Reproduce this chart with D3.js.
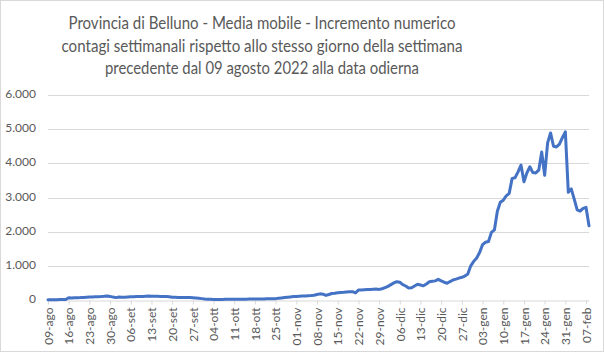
<!DOCTYPE html>
<html>
<head>
<meta charset="utf-8">
<script src="https://cdn.jsdelivr.net/npm/d3@7"></script>
<style>
  body { margin: 0; background: #fff; }
  text { font-family: Lato, "Liberation Sans", sans-serif; }
</style>
</head>
<body>
<svg id="chart" width="604" height="352"></svg>
<script>
// titolo del grafico
var titleLines = [
    "Provincia di Belluno - Media mobile - Incremento numerico",
    "contagi settimanali rispetto allo stesso giorno della settimana",
    "precedente dal 09 agosto 2022 alla data odierna"
]

// etichette settimanali dell'asse x (una ogni 7 giorni)
var weekLabels = ["09-ago", "16-ago", "23-ago", "30-ago", "06-set", "13-set", "20-set", "27-set",
    "04-ott", "11-ott", "18-ott", "25-ott", "01-nov", "08-nov", "15-nov", "22-nov", "29-nov",
    "06-dic", "13-dic", "20-dic", "27-dic", "03-gen", "10-gen", "17-gen", "24-gen", "31-gen", "07-feb"]

var yTicks = [0, 1000, 2000, 3000, 4000, 5000, 6000]

// valori giornalieri dal 09-ago al 08-feb
var dailyValues = [
    8, 8, 10, 10, 12, 12, 15,
    65, 62, 65, 68, 70, 75, 80,
    85, 88, 92, 95, 100, 108, 118,
    105, 85, 70, 85, 78, 80, 88,
    95, 98, 100, 102, 105, 110, 115,
    112, 110, 108, 106, 105, 100, 95,
    80, 78, 76, 75, 75, 72, 70,
    68, 60, 50, 40, 30, 22, 20,
    18, 15, 15, 18, 20, 20, 22,
    22, 20, 22, 25, 25, 28, 28,
    30, 30, 32, 32, 35, 35, 38,
    40, 50, 60, 70, 80, 90, 100,
    105, 110, 115, 118, 125, 130, 140,
    160, 180, 170, 135, 160, 190, 200,
    215, 220, 225, 235, 240, 245, 210,
    290, 295, 300, 305, 310, 315, 320,
    310, 330, 360, 400, 450, 500, 535,
    520, 450, 410, 350, 360, 410, 460,
    440, 415, 470, 535, 550, 560, 605,
    560, 520, 490, 540, 585, 610, 640,
    665, 700, 760, 1000, 1130, 1230, 1390,
    1620, 1690, 1710, 1980, 2050, 2600, 2860,
    2920, 3050, 3120, 3560, 3580, 3750, 3950,
    3460, 3720, 3900, 3730, 3720, 3800, 4330,
    3650, 4600, 4890, 4500, 4480, 4560, 4750,
    4920, 3150, 3250, 2950, 2640, 2600, 2680,
    2710, 2170
]

var width = 604,
    height = 352,
    margin = { top: 95, right: 15, bottom: 52, left: 48 },
    grey = "#595959",
    gridColor = "#d9d9d9"

var svg = d3.select("#chart")

// bordo esterno
svg.append("rect")
    .attr("x", 0.5).attr("y", 0.5)
    .attr("width", width - 1).attr("height", height - 1)
    .attr("fill", "#fff")
    .attr("stroke", gridColor)

var x = d3.scaleLinear()
    .domain([0, dailyValues.length - 1])
    .range([margin.left, width - margin.right])

var y = d3.scaleLinear()
    .domain([0, 6000])
    .range([height - margin.bottom, margin.top])

var fmt = d3.formatLocale({ decimal: ",", thousands: ".", grouping: [3], currency: ["€", ""] }).format(",d")

// griglia orizzontale
svg.append("g")
    .selectAll("line")
    .data(yTicks.slice(1))
    .enter()
    .append("line")
    .attr("x1", x.range()[0])
    .attr("x2", x.range()[1])
    .attr("y1", d => Math.round(y(d)) + 0.5)
    .attr("y2", d => Math.round(y(d)) + 0.5)
    .attr("stroke", gridColor)

// asse y (solo etichette)
svg.append("g")
    .selectAll("text")
    .data(yTicks)
    .enter()
    .append("text")
    .attr("x", 36)
    .attr("y", d => y(d))
    .attr("text-anchor", "end")
    .attr("dominant-baseline", "middle")
    .attr("font-size", "12px")
    .attr("fill", grey)
    .text(d => fmt(d))

// asse x
var tickDays = weekLabels.map((d, i) => i * 7)
var xAxis = d3.axisBottom(x)
    .tickValues(tickDays)
    .tickFormat((d, i) => weekLabels[i])
    .tickSize(4)
    .tickSizeOuter(0)

var gx = svg.append("g")
    .attr("transform", "translate(0," + (Math.round(y(0)) + 0.5) + ")")
    .call(xAxis)

gx.select(".domain").attr("stroke", gridColor)
gx.selectAll(".tick line").attr("stroke", gridColor)
gx.selectAll(".tick text")
    .attr("font-size", "12px")
    .attr("fill", grey)
    .attr("font-family", "Lato, sans-serif")
    .attr("transform", "rotate(-90)")
    .attr("text-anchor", "end")
    .attr("dy", "0.35em")
    .attr("x", -7)
    .attr("y", 0)

// linea
var line = d3.line()
    .x((d, i) => x(i))
    .y(d => y(d))

svg.append("path")
    .datum(dailyValues)
    .attr("d", line)
    .attr("fill", "none")
    .attr("stroke", "#4472c4")
    .attr("stroke-width", 3)
    .attr("stroke-linejoin", "round")
    .attr("stroke-linecap", "round")

// titolo
var titleWidths = [387, 401, 314]
svg.append("g")
    .selectAll("text")
    .data(titleLines)
    .enter()
    .append("text")
    .attr("x", 262)
    .attr("y", (d, i) => 25 + i * 22.5)
    .attr("text-anchor", "middle")
    .attr("dominant-baseline", "middle")
    .attr("font-size", "17px")
    .attr("fill", grey)
    .attr("textLength", (d, i) => titleWidths[i])
    .attr("lengthAdjust", "spacingAndGlyphs")
    .text(d => d)
</script>
</body>
</html>
